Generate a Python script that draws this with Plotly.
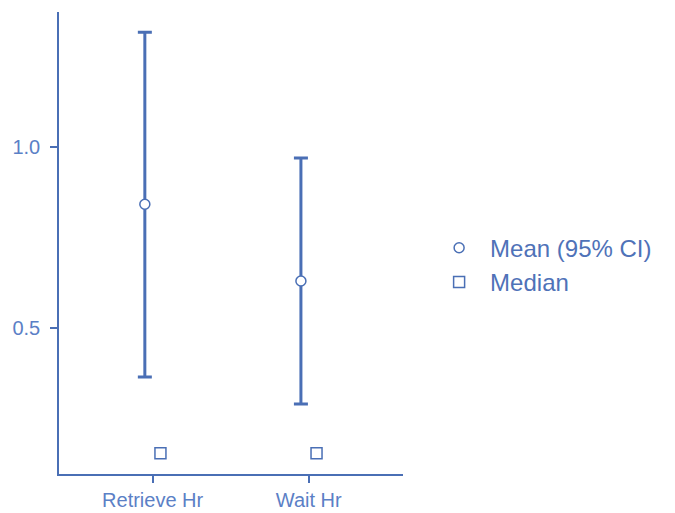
import numpy as np
import plotly.graph_objects as go

# Summary statistics per measure
categories = ["Retrieve Hr", "Wait Hr"]
means = [0.842, 0.630]
ci_upper = [1.317, 0.970]
ci_lower = [0.365, 0.290]
medians = [0.154, 0.154]
y_ticks = [0.5, 1.0]

LINE = "#4a6fb5"
TEXT = "#5b80c6"
FONT = "Liberation Sans, Arial, sans-serif"
OFFSET = 0.05  # horizontal nudge between mean and median marks

idx = np.arange(len(categories))
mean_x = idx - OFFSET
median_x = idx + OFFSET
means_a = np.array(means)
err_plus = np.array(ci_upper) - means_a
err_minus = means_a - np.array(ci_lower)

fig = go.Figure()

# 95% CI whiskers
fig.add_trace(go.Scatter(
    x=mean_x, y=means, mode="markers",
    marker=dict(size=1, color="rgba(0,0,0,0)"),
    error_y=dict(type="data", symmetric=False, array=err_plus, arrayminus=err_minus,
                 color=LINE, thickness=3, width=7),
    showlegend=False, hoverinfo="skip",
))

# Means
fig.add_trace(go.Scatter(
    x=mean_x, y=means, mode="markers", name="Mean (95% CI)",
    marker=dict(symbol="circle", size=10, color="white", line=dict(color=LINE, width=1.5)),
))

# Medians
fig.add_trace(go.Scatter(
    x=median_x, y=medians, mode="markers", name="Median",
    marker=dict(symbol="square", size=11, color="white", line=dict(color=LINE, width=1.5)),
))

fig.update_layout(
    width=675, height=513,
    margin=dict(l=59, r=272, t=12, b=39, autoexpand=False),
    paper_bgcolor="white", plot_bgcolor="white",
    font=dict(family=FONT, color=TEXT),
    legend=dict(
        x=1.073, y=0.452, xanchor="left", yanchor="middle",
        font=dict(size=24, color="#4f72b8", family=FONT),
        itemwidth=52, bgcolor="rgba(0,0,0,0)",
    ),
    xaxis=dict(
        range=[-0.6, 1.604], tickvals=idx.tolist(), ticktext=categories,
        showgrid=False, zeroline=False, automargin=False,
        showline=True, linecolor=LINE, linewidth=1.5,
        ticks="outside", ticklen=7, tickwidth=2, tickcolor=LINE,
        tickfont=dict(size=20, color=TEXT),
    ),
    yaxis=dict(
        range=[0.097, 1.373], tickvals=y_ticks, tickformat=".1f",
        showgrid=False, zeroline=False, automargin=False,
        showline=True, linecolor=LINE, linewidth=1.5,
        ticks="outside", ticklen=7, tickwidth=2, tickcolor=LINE,
        tickfont=dict(size=20, color=TEXT),
        ticklabelstandoff=6,
    ),
)

fig.write_html("out.html")
